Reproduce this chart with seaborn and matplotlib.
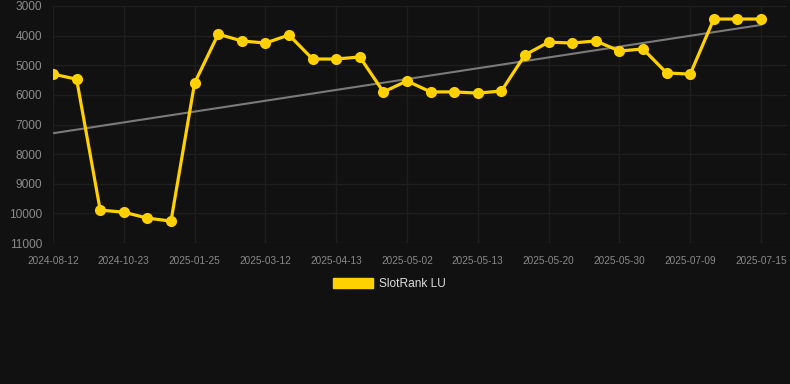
import numpy as np
import pandas as pd
import matplotlib
matplotlib.use("Agg")
import matplotlib.pyplot as plt
from matplotlib.patches import Patch
import seaborn as sns

dates = ["2024-08-12", "2024-08-30", "2024-09-20", "2024-10-23", "2024-11-15", "2024-12-10",
         "2025-01-25", "2025-02-05", "2025-02-20", "2025-03-12", "2025-03-20", "2025-03-28",
         "2025-04-13", "2025-04-20", "2025-04-27", "2025-05-02", "2025-05-06", "2025-05-09",
         "2025-05-13", "2025-05-15", "2025-05-17", "2025-05-20", "2025-05-23", "2025-05-27",
         "2025-05-30", "2025-06-10", "2025-06-25", "2025-07-09", "2025-07-11", "2025-07-13",
         "2025-07-15"]
ranks = [5300, 5470, 9890, 9960, 10160, 10260,
         5600, 3950, 4180, 4250, 3980, 4790,
         4790, 4720, 5900, 5530, 5900, 5900,
         5940, 5870, 4650, 4220, 4250, 4180,
         4520, 4450, 5260, 5300, 3440, 3440,
         3440]
series_name = "SlotRank LU"
y_ticks = [3000, 4000, 5000, 6000, 7000, 8000, 9000, 10000, 11000]

df = pd.DataFrame({"idx": np.arange(len(dates)), "date": dates, "rank": ranks})

sns.set_theme(style="dark")
bg = "#111111"
plt.rcParams["font.family"] = ["Liberation Sans", "DejaVu Sans"]

fig = plt.figure(figsize=(7.9, 3.84), dpi=100, facecolor=bg)
ax = fig.add_axes([53 / 790, 1 - 243 / 384, (787 - 53) / 790, (243 - 6) / 384])
ax.set_facecolor(bg)

# trend line
coef = np.polyfit(df["idx"], df["rank"], 1)
trend = np.polyval(coef, df["idx"])
ax.plot(df["idx"], trend, color="#7a7a7a", lw=1.5, zorder=2)

yellow = "#FFD100"
sns.lineplot(data=df, x="idx", y="rank", ax=ax, color=yellow, lw=2.3,
             marker="o", markersize=8, markeredgewidth=0, zorder=3, legend=False)

n = len(dates)
ax.set_xlim(0, (787 - 53) / ((761 - 53) / (n - 1)))
ax.set_ylim(11000, 3000)
ax.set_yticks(y_ticks)
ax.set_yticklabels([str(v) for v in y_ticks])
tick_idx = list(range(0, n, 3))
ax.set_xticks(tick_idx)
ax.set_xticklabels([dates[i] for i in tick_idx])
ax.set_xlabel("")
ax.set_ylabel("")

ax.grid(True, color="#1e1e1e", lw=1.0)
ax.set_axisbelow(True)
for s in ax.spines.values():
    s.set_visible(False)
ax.tick_params(axis="y", colors="#8a8a8a", labelsize=8.6, length=0, pad=8)
ax.tick_params(axis="x", colors="#8a8a8a", labelsize=7.2, length=0, pad=9)

fig.legend(handles=[Patch(facecolor=yellow, edgecolor=yellow, label=series_name)],
           loc="center", bbox_to_anchor=(389 / 790, 1 - 284 / 384),
           frameon=False, fontsize=8.6, labelcolor="#dddddd",
           handlelength=3.35, handleheight=1.0, handletextpad=0.5)

fig.savefig("out.png", dpi=100, facecolor=bg)
